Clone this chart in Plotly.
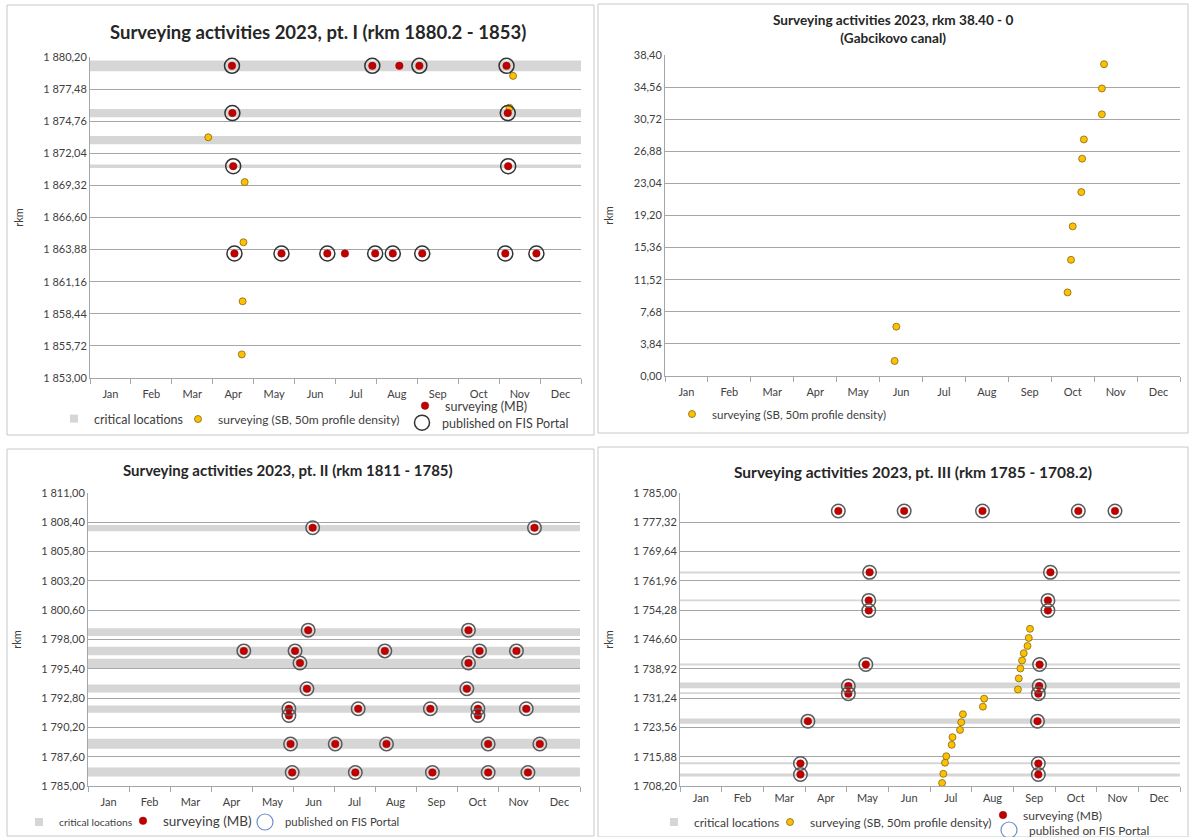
import plotly.graph_objects as go

FONT = "Lato"
W, H = 1190, 837
TEXT = "#404040"
TITLE_C = "#262626"
RED = "#C00000"
RED_LINE = "#9A0000"
YELLOW = "#FFC000"
YELLOW_LINE = "#7F6A1A"
CIRCLE_DARK = "#333333"
CIRCLE_GRAY = "#5A5A5A"
LEGEND_BLUE = "#6F8FC9"
CRIT = "#D6D6D6"
GRID = "#A6A6A6"
BORDER = "#C8C8C8"

MONTHS = ["Jan", "Feb", "Mar", "Apr", "May", "Jun", "Jul", "Aug", "Sep", "Oct", "Nov", "Dec"]
MONTH_CENTERS = [0.5, 1.5, 2.5, 3.5, 4.5, 5.5, 6.5, 7.5, 8.5, 9.5, 10.5, 11.5]

# ---------- Panel A: pt. I (rkm 1880.2 - 1853) ----------
A_TITLE = "Surveying activities 2023, pt. I (rkm 1880.2 - 1853)"
A_YTICKVALS = [1853.00, 1855.72, 1858.44, 1861.16, 1863.88, 1866.60, 1869.32, 1872.04, 1874.76, 1877.48, 1880.20]
A_YTICKTEXT = ["1 853,00", "1 855,72", "1 858,44", "1 861,16", "1 863,88", "1 866,60",
               "1 869,32", "1 872,04", "1 874,76", "1 877,48", "1 880,20"]
A_CRIT_LOW = [1879.0, 1875.1, 1872.8, 1870.8]
A_CRIT_HIGH = [1879.9, 1875.8, 1873.5, 1871.1]
A_MB_MONTH = [3.47, 6.90, 7.56, 8.05, 10.18, 3.48, 10.21, 3.50, 10.22,
              3.53, 4.68, 5.80, 6.23, 6.97, 7.40, 8.12, 10.15, 10.91]
A_MB_RKM = [1879.45, 1879.45, 1879.45, 1879.45, 1879.45, 1875.45, 1875.45, 1870.95, 1870.95,
            1863.55, 1863.55, 1863.55, 1863.55, 1863.55, 1863.55, 1863.55, 1863.55, 1863.55]
A_MB_PUBLISHED = [1, 1, 0, 1, 1, 1, 1, 1, 1,
                  1, 1, 1, 0, 1, 1, 1, 1, 1]
A_SB_MONTH = [2.89, 3.78, 3.75, 3.73, 3.71, 10.34, 10.25]
A_SB_RKM = [1873.4, 1869.6, 1864.5, 1859.5, 1855.0, 1878.6, 1875.9]

# ---------- Panel B: Gabcikovo canal (rkm 38.40 - 0) ----------
B_TITLE = "Surveying activities 2023, rkm 38.40 - 0<br>(Gabcikovo canal)"
B_YTICKVALS = [0.00, 3.84, 7.68, 11.52, 15.36, 19.20, 23.04, 26.88, 30.72, 34.56, 38.40]
B_YTICKTEXT = ["0,00", "3,84", "7,68", "11,52", "15,36", "19,20", "23,04", "26,88", "30,72", "34,56", "38,40"]
B_SB_MONTH = [5.39, 5.35, 9.38, 9.46, 9.50, 9.70, 9.72, 9.76, 10.18, 10.18, 10.23]
B_SB_RKM = [5.9, 1.8, 10.0, 13.9, 17.9, 22.0, 26.0, 28.3, 31.3, 34.4, 37.3]

# ---------- Panel C: pt. II (rkm 1811 - 1785) ----------
C_TITLE = "Surveying activities 2023, pt. II (rkm 1811 - 1785)"
C_YTICKVALS = [1785.00, 1787.60, 1790.20, 1792.80, 1795.40, 1798.00, 1800.60, 1803.20, 1805.80, 1808.40, 1811.00]
C_YTICKTEXT = ["1 785,00", "1 787,60", "1 790,20", "1 792,80", "1 795,40", "1 798,00",
               "1 800,60", "1 803,20", "1 805,80", "1 808,40", "1 811,00"]
C_CRIT_LOW = [1807.60, 1798.30, 1796.60, 1795.40, 1793.30, 1791.50, 1788.30, 1785.85]
C_CRIT_HIGH = [1808.15, 1799.00, 1797.35, 1796.30, 1794.00, 1792.15, 1789.20, 1786.65]
C_MB_MONTH = [5.48, 10.89,
              5.37, 9.28,
              3.80, 5.05, 7.24, 9.55, 10.45,
              5.17, 9.28,
              5.34, 9.24,
              4.90, 6.59, 8.35, 9.51, 10.69,
              4.90, 9.51,
              4.94, 6.03, 7.28, 9.76, 11.02,
              4.98, 6.52, 8.40, 9.76, 10.73]
C_MB_RKM = [1807.92, 1807.92,
            1798.83, 1798.83,
            1796.99, 1796.99, 1796.99, 1796.99, 1796.99,
            1795.92, 1795.92,
            1793.63, 1793.63,
            1791.85, 1791.85, 1791.85, 1791.85, 1791.85,
            1791.25, 1791.25,
            1788.73, 1788.73, 1788.73, 1788.73, 1788.73,
            1786.20, 1786.20, 1786.20, 1786.20, 1786.20]
C_MB_PUBLISHED = [1] * 30

# ---------- Panel D: pt. III (rkm 1785 - 1708.2) ----------
D_TITLE = "Surveying activities 2023, pt. III (rkm 1785 - 1708.2)"
D_YTICKVALS = [1708.20, 1715.88, 1723.56, 1731.24, 1738.92, 1746.60, 1754.28, 1761.96, 1769.64, 1777.32, 1785.00]
D_YTICKTEXT = ["1 708,20", "1 715,88", "1 723,56", "1 731,24", "1 738,92", "1 746,60",
               "1 754,28", "1 761,96", "1 769,64", "1 777,32", "1 785,00"]
D_CRIT_LOW = [1763.9, 1756.6, 1739.8, 1733.8, 1732.3, 1724.5, 1713.9, 1710.7]
D_CRIT_HIGH = [1764.4, 1757.1, 1740.3, 1735.3, 1732.8, 1725.9, 1714.4, 1711.5]
D_MB_MONTH = [3.80, 5.38, 7.26, 9.56, 10.44,
              4.55, 8.89,
              4.53, 8.83,
              4.53, 8.83,
              4.46, 8.63,
              4.04, 8.62,
              4.04, 8.60,
              3.07, 8.58,
              2.89, 8.60,
              2.89, 8.60]
D_MB_RKM = [1780.3, 1780.3, 1780.3, 1780.3, 1780.3,
            1764.2, 1764.2,
            1756.85, 1756.85,
            1754.2, 1754.2,
            1740.05, 1740.05,
            1734.4, 1734.4,
            1732.4, 1732.4,
            1725.2, 1725.2,
            1714.1, 1714.1,
            1711.2, 1711.2]
D_MB_PUBLISHED = [1] * 23
D_SB_MONTH = [8.40, 8.37, 8.34, 8.25, 8.21, 8.17, 8.13, 8.11, 7.30, 7.27,
              6.79, 6.75, 6.72, 6.54, 6.52, 6.39, 6.36, 6.32, 6.29]
D_SB_RKM = [1749.4, 1747.0, 1744.9, 1743.0, 1741.1, 1739.0, 1736.4, 1733.5, 1731.1, 1729.0,
            1727.0, 1724.9, 1722.9, 1721.0, 1719.0, 1716.0, 1714.3, 1711.4, 1709.0]

# ---------------------------------------------------------------
def px(x):
    return x / W


def py(y):
    return 1 - y / H


fig = go.Figure()
layout = dict(
    width=W, height=H, margin=dict(l=0, r=0, t=0, b=0, pad=0, autoexpand=False),
    paper_bgcolor="white", plot_bgcolor="white", showlegend=True,
    font=dict(family=FONT, color=TEXT, size=11),
)
shapes = []
annotations = []

PANELS = [
    dict(s="", frame=(7, 5, 594, 435), plot=(90, 57, 581, 378), tv=A_YTICKVALS, tt=A_YTICKTEXT,
         title=A_TITLE, tpos=(318, 32), tsize=18.5, xlab=6),
    dict(s="2", frame=(598, 4, 1188, 433), plot=(665, 55, 1180, 376), tv=B_YTICKVALS, tt=B_YTICKTEXT,
         title=B_TITLE, tpos=(893, 29), tsize=13.6, xlab=6),
    dict(s="3", frame=(7, 449, 594, 836), plot=(88, 493, 580, 786), tv=C_YTICKVALS, tt=C_YTICKTEXT,
         title=C_TITLE, tpos=(288, 470), tsize=15, xlab=6),
    dict(s="4", frame=(598, 447, 1188, 837), plot=(680, 493, 1180, 786), tv=D_YTICKVALS, tt=D_YTICKTEXT,
         title=D_TITLE, tpos=(913, 472), tsize=15.5, xlab=2),
]

for p in PANELS:
    s = p["s"]
    fx0, fy0, fx1, fy1 = p["frame"]
    shapes.append(dict(type="rect", xref="paper", yref="paper", x0=px(fx0), x1=px(fx1),
                       y0=py(fy1), y1=py(fy0), line=dict(color=BORDER, width=1),
                       fillcolor="rgba(0,0,0,0)", layer="below"))
    x0, y0, x1, y1 = p["plot"]
    layout["xaxis" + s] = dict(
        domain=[px(x0), px(x1)], range=[0, 12], anchor="y" + s,
        tickmode="array", tickvals=MONTH_CENTERS, ticktext=MONTHS,
        ticks="outside", ticklen=p["xlab"], tickcolor="rgba(0,0,0,0)",
        showgrid=False, zeroline=False, showline=True, linecolor=GRID, linewidth=1,
        minor=dict(tickmode="linear", tick0=0, dtick=1, ticks="outside", ticklen=5,
                   tickcolor=GRID, showgrid=False),
        tickfont=dict(family=FONT, size=11, color=TEXT), fixedrange=True, automargin=False,
    )
    layout["yaxis" + s] = dict(
        domain=[py(y1), py(y0)], range=[p["tv"][0], p["tv"][-1]], anchor="x" + s,
        tickmode="array", tickvals=p["tv"], ticktext=p["tt"], ticks="",
        showgrid=True, gridcolor=GRID, gridwidth=1, zeroline=False,
        showline=True, linecolor=GRID, linewidth=1,
        tickfont=dict(family=FONT, size=11, color=TEXT),
        title=dict(text="rkm", font=dict(family=FONT, size=11, color=TEXT), standoff=17),
        fixedrange=True, automargin=False,
    )
    annotations.append(dict(text="<b>" + p["title"] + "</b>", xref="paper", yref="paper",
                            x=px(p["tpos"][0]), y=py(p["tpos"][1]), xanchor="center", yanchor="middle",
                            showarrow=False, font=dict(family=FONT, size=p["tsize"], color=TITLE_C)))


def add_crit(lows, highs, s):
    for lo, hi in zip(lows, highs):
        shapes.append(dict(type="rect", xref="x" + s + " domain" if s else "x domain",
                           yref="y" + s, x0=0, x1=1, y0=lo, y1=hi,
                           fillcolor=CRIT, line=dict(width=0), layer="below"))


add_crit(A_CRIT_LOW, A_CRIT_HIGH, "")
add_crit(C_CRIT_LOW, C_CRIT_HIGH, "3")
add_crit(D_CRIT_LOW, D_CRIT_HIGH, "4")

legend_defs = {}


def make_legend(key, text_x, y, size):
    legend_defs[key] = dict(x=px(text_x - 38), y=py(y), xanchor="left", yanchor="middle",
                            orientation="h", bgcolor="rgba(0,0,0,0)", borderwidth=0,
                            itemwidth=30, font=dict(family=FONT, size=size, color=TEXT))


def crit_legend(s, legend):
    fig.add_trace(go.Scatter(x=[None], y=[None], mode="markers", name="critical locations",
                             marker=dict(symbol="square", size=8, color=CRIT),
                             xaxis="x" + s, yaxis="y" + s, legend=legend, hoverinfo="skip"))


def sb_trace(xs, ys, s, legend):
    fig.add_trace(go.Scatter(x=xs, y=ys, mode="markers", name="surveying (SB, 50m profile density)",
                             marker=dict(symbol="circle", size=7, color=YELLOW,
                                         line=dict(color=YELLOW_LINE, width=0.8)),
                             xaxis="x" + s, yaxis="y" + s, legend=legend))


def mb_trace(xs, ys, s, legend):
    fig.add_trace(go.Scatter(x=xs, y=ys, mode="markers", name="surveying (MB)",
                             marker=dict(symbol="circle", size=7.5, color=RED,
                                         line=dict(color=RED_LINE, width=0.5)),
                             xaxis="x" + s, yaxis="y" + s, legend=legend))


def pub_trace(xs, ys, flags, s, color, size, legend, showlegend):
    px_ = [x for x, f in zip(xs, flags) if f]
    py_ = [y for y, f in zip(ys, flags) if f]
    fig.add_trace(go.Scatter(x=px_, y=py_, mode="markers", name="published on FIS Portal",
                             marker=dict(symbol="circle-open", size=size, color=color,
                                         line=dict(width=1.5)),
                             xaxis="x" + s, yaxis="y" + s, legend=legend, showlegend=showlegend))


def pub_legend(s, legend):
    fig.add_trace(go.Scatter(x=[None], y=[None], mode="markers", name="published on FIS Portal",
                             marker=dict(symbol="circle-open", size=16, color=LEGEND_BLUE,
                                         line=dict(width=1.2)),
                             xaxis="x" + s, yaxis="y" + s, legend=legend, hoverinfo="skip"))


# Panel A
make_legend("legend", 92, 419, 12.5)
make_legend("legend2", 216, 419, 12)
make_legend("legend3", 443, 406, 12.5)
make_legend("legend4", 440, 423, 12.5)
crit_legend("", "legend")
sb_trace(A_SB_MONTH, A_SB_RKM, "", "legend2")
mb_trace(A_MB_MONTH, A_MB_RKM, "", "legend3")
pub_trace(A_MB_MONTH, A_MB_RKM, A_MB_PUBLISHED, "", CIRCLE_DARK, 15, "legend4", True)

# Panel B
make_legend("legend5", 710, 414, 11.5)
sb_trace(B_SB_MONTH, B_SB_RKM, "2", "legend5")

# Panel C
make_legend("legend6", 57, 822, 10.3)
make_legend("legend7", 161, 821, 13.5)
make_legend("legend8", 283, 822, 11.3)
crit_legend("3", "legend6")
mb_trace(C_MB_MONTH, C_MB_RKM, "3", "legend7")
pub_trace(C_MB_MONTH, C_MB_RKM, C_MB_PUBLISHED, "3", CIRCLE_GRAY, 13.5, "legend8", False)
pub_legend("3", "legend8")

# Panel D
make_legend("legend9", 692, 822, 12)
make_legend("legend10", 808, 822, 12)
make_legend("legend11", 1021, 815, 12)
make_legend("legend12", 1027, 830, 11.9)
crit_legend("4", "legend9")
sb_trace(D_SB_MONTH, D_SB_RKM, "4", "legend10")
mb_trace(D_MB_MONTH, D_MB_RKM, "4", "legend11")
pub_trace(D_MB_MONTH, D_MB_RKM, D_MB_PUBLISHED, "4", CIRCLE_GRAY, 13.5, "legend12", False)
pub_legend("4", "legend12")

layout.update(legend_defs)
layout["shapes"] = shapes
layout["annotations"] = annotations
fig.update_layout(**layout)
fig.write_html("out.html")
